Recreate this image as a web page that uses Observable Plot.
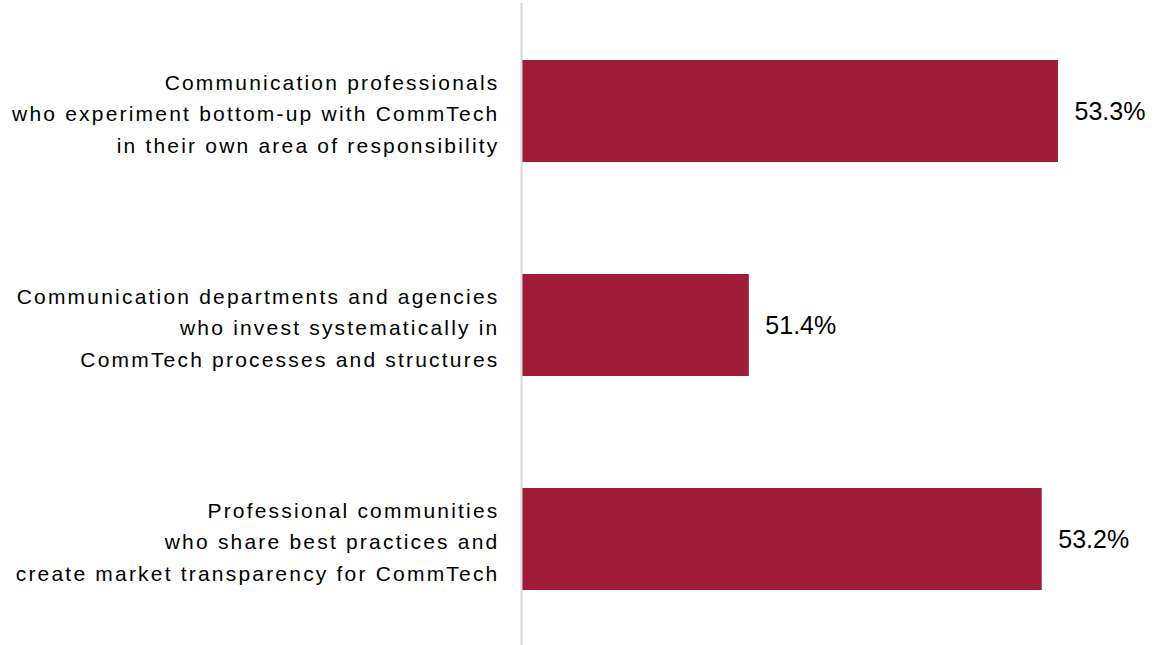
<!DOCTYPE html>
<html>
<head>
<meta charset="utf-8">
<script src="https://cdn.jsdelivr.net/npm/d3@7"></script>
<script src="https://cdn.jsdelivr.net/npm/@observablehq/plot@0.6"></script>
<style>
  html, body { margin: 0; padding: 0; background: #fff; }
</style>
</head>
<body>
<div id="chart"></div>
<script>
const categories = [
  "Communication professionals\nwho experiment bottom-up with CommTech\nin their own area of responsibility",
  "Communication departments and agencies\nwho invest systematically in\nCommTech processes and structures",
  "Professional communities\nwho share best practices and\ncreate market transparency for CommTech"
];
const values = [53.3, 51.4, 53.2];
const baseline = 50;

const data = categories.map((c, i) => ({category: c, value: values[i]}));

const chart = Plot.plot({
  width: 1162,
  height: 645,
  marginTop: 3,
  marginBottom: 0,
  marginLeft: 0,
  marginRight: 0,
  x: {domain: [baseline, 53.3], range: [521, 1058], axis: null},
  y: {domain: categories, range: [4, 646], paddingInner: 0.5234, paddingOuter: 0.2617, axis: null},
  marks: [
    Plot.barX(data, {x1: baseline, x2: "value", y: "category", fill: "#9E1C37"}),
    Plot.ruleX([baseline], {stroke: "#d9d9d9", strokeWidth: 2}),
    Plot.text(data, {
      x: baseline, y: "category", text: "category",
      textAnchor: "end", dx: -22, lineHeight: 1.48,
      fontSize: 21, fill: "#000",
      fontFamily: "Liberation Sans, Arial, sans-serif"
    }),
    Plot.text(data, {
      x: "value", y: "category", text: d => d.value.toFixed(1) + "%",
      textAnchor: "start", dx: 16,
      fontSize: 25, fill: "#000",
      fontFamily: "Liberation Sans, Arial, sans-serif"
    })
  ]
});
// widen the category labels' tracking like the reference
d3.select(chart).selectAll('g[aria-label="text"]').filter((d, i) => i === 0)
  .attr("letter-spacing", "2.2px");
document.getElementById("chart").appendChild(chart);
</script>
</body>
</html>
